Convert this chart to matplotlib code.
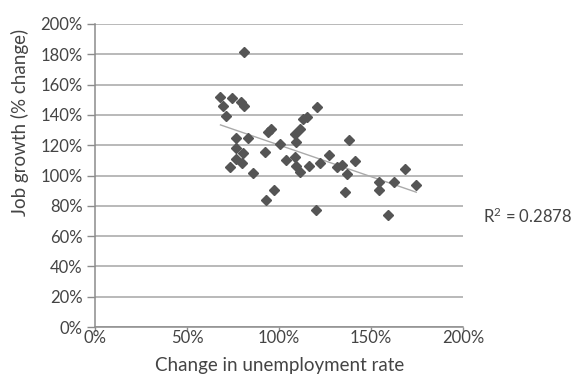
import numpy as np
import matplotlib
matplotlib.use("Agg")
import matplotlib.pyplot as plt
from matplotlib.ticker import FuncFormatter

# Data: change in unemployment rate (%) vs job growth (%)
unemp_change = [68.2, 74.6, 69.4, 79.2, 81.1, 71.2, 81.1, 76.6, 83.3, 76.6,
                80.6, 76.4, 79.7, 73.6, 85.6, 92.3, 94.0, 95.9, 100.5, 103.6,
                108.7, 109.0, 111.4, 109.4, 108.7, 111.4, 113.2, 115.2, 120.5, 97.4,
                92.8, 116.1, 122.4, 127.2, 131.4, 134.4, 137.2, 138.0, 141.3, 135.8,
                120.3, 154.3, 154.3, 162.7, 168.3, 174.6, 159.4]
job_growth = [152.0, 151.4, 145.9, 148.8, 146.2, 139.3, 181.7, 124.8, 124.8, 118.0,
              114.7, 110.7, 108.1, 105.8, 101.8, 115.2, 128.4, 130.8, 120.5, 110.2,
              112.2, 106.6, 102.5, 122.3, 127.4, 130.4, 137.0, 138.6, 145.2, 90.6,
              83.5, 106.1, 108.1, 113.5, 105.4, 107.1, 101.3, 123.6, 109.7, 89.3,
              77.2, 96.0, 90.4, 95.7, 104.3, 93.7, 73.9]
x_ticks = [0, 50, 100, 150, 200]
y_ticks = [0, 20, 40, 60, 80, 100, 120, 140, 160, 180, 200]
r2_label = "R$^2$ = 0.2878"
x_title = "Change in unemployment rate"
y_title = "Job growth (% change)"

plt.rcParams['font.family'] = ['Lato', 'DejaVu Sans']
plt.rcParams['mathtext.default'] = 'regular'
text_color = '#444444'
fs = 12
fs_title = 13.5

fig = plt.figure(figsize=(5.8, 3.76), dpi=100)
ax = fig.add_axes([95/580, 1-327/376, (463-95)/580, (327-24)/376])

x = np.array(unemp_change)
y = np.array(job_growth)
ax.plot(x, y, linestyle='none', marker='D', markersize=5.5,
        color='#555555', zorder=3)

# linear trendline
coef = np.polyfit(x, y, 1)
xl = np.array([x.min(), x.max()])
ax.plot(xl, np.polyval(coef, xl), color='#aaaaaa', lw=1.0, zorder=2)

ax.set_xlim(0, 200)
ax.set_ylim(0, 200)
ax.set_xticks(x_ticks)
ax.set_yticks(y_ticks)
fmt = FuncFormatter(lambda v, p: f"{v:.0f}%")
ax.xaxis.set_major_formatter(fmt)
ax.yaxis.set_major_formatter(fmt)

ax.grid(axis='y', color='#a6a6a6', lw=1.1)
ax.set_axisbelow(True)
for s in ['top', 'right']:
    ax.spines[s].set_visible(False)
for s in ['left', 'bottom']:
    ax.spines[s].set_color('#8c8c8c')
    ax.spines[s].set_linewidth(1.1)

ax.tick_params(axis='y', length=6, width=1.0, color='#8c8c8c', pad=3,
               labelsize=fs, labelcolor=text_color)
ax.tick_params(axis='x', length=3, width=1.0, color='#8c8c8c', pad=-1,
               labelsize=fs, labelcolor=text_color)

fig.text(280/580, 1-366/376, x_title, ha='center', va='center',
         fontsize=fs_title, color=text_color)
fig.text(20/580, 1-122/376, y_title, ha='center', va='center', rotation=90,
         fontsize=fs_title, color=text_color)
fig.text(483/580, 1-216/376, r2_label, ha='left', va='center',
         fontsize=fs, color=text_color)

fig.savefig('out.png', dpi=100)
